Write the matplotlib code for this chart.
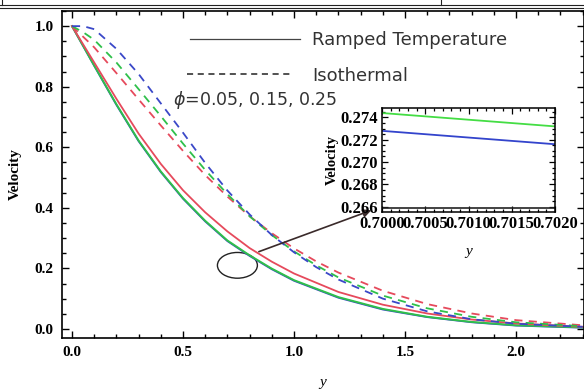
import numpy as np
import matplotlib
matplotlib.use("Agg")
import matplotlib.pyplot as plt
from matplotlib.patches import Ellipse
from matplotlib.lines import Line2D
from matplotlib.ticker import MultipleLocator, FormatStrFormatter

# velocity profiles, ramped temperature (solid)
y_ramp = [0.0, 0.1, 0.2, 0.3, 0.4, 0.5, 0.6, 0.7, 0.8, 0.9, 1.0, 1.2, 1.4, 1.6, 1.8, 2.0, 2.3]
ramp_red = [1.0, 0.88, 0.76, 0.645, 0.545, 0.458, 0.385, 0.322, 0.267, 0.222, 0.183, 0.122, 0.08, 0.051, 0.031, 0.018, 0.007]
ramp_green = [1.0, 0.87, 0.742, 0.622, 0.52, 0.432, 0.357, 0.292, 0.243, 0.199, 0.161, 0.105, 0.066, 0.04, 0.023, 0.012, 0.005]
ramp_blue = [1.0, 0.869, 0.74, 0.62, 0.518, 0.43, 0.355, 0.29, 0.241, 0.197, 0.159, 0.103, 0.064, 0.039, 0.022, 0.011, 0.004]

# isothermal (dashed)
y_iso = [0.0, 0.05, 0.1, 0.2, 0.3, 0.4, 0.5, 0.6, 0.7, 0.8, 0.9, 1.0, 1.1, 1.2, 1.4, 1.6, 1.8, 2.0, 2.3]
iso_red = [1.0, 0.965, 0.93, 0.845, 0.758, 0.672, 0.588, 0.508, 0.437, 0.372, 0.316, 0.266, 0.223, 0.186, 0.126, 0.082, 0.051, 0.029, 0.012]
iso_green = [1.0, 0.98, 0.955, 0.88, 0.792, 0.703, 0.612, 0.525, 0.445, 0.372, 0.31, 0.256, 0.21, 0.17, 0.11, 0.068, 0.04, 0.022, 0.009]
iso_blue = [1.0, 1.0, 0.99, 0.925, 0.842, 0.745, 0.648, 0.548, 0.457, 0.378, 0.31, 0.253, 0.204, 0.163, 0.1, 0.058, 0.032, 0.017, 0.007]

# zoomed region around y = 0.7
y_zoom = [0.7000, 0.7020]
zoom_green = [0.2744, 0.2732]
zoom_blue = [0.2728, 0.2716]
zoom_black = [0.2659, 0.2659]

RED = "#e64a5c"
GREEN = "#2fc04a"
BLUE = "#3a48c8"

serif_bold = {"family": "Liberation Serif", "weight": "bold"}

fig = plt.figure(figsize=(5.84, 3.92), dpi=100)
ax = fig.add_axes([62 / 584, 54 / 392, 522 / 584, 327 / 392])

ax.plot(y_ramp, ramp_blue, color=BLUE, lw=1.3)
ax.plot(y_ramp, ramp_green, color=GREEN, lw=1.4)
ax.plot(y_ramp, ramp_red, color=RED, lw=1.3)
dash = (0, (4.5, 3.5))
ax.plot(y_iso, iso_red, color=RED, lw=1.3, ls=dash)
ax.plot(y_iso, iso_green, color=GREEN, lw=1.3, ls=dash)
ax.plot(y_iso, iso_blue, color=BLUE, lw=1.3, ls=dash)

ax.set_xlim(-0.045, 2.306)
ax.set_ylim(-0.03, 1.05)
ax.xaxis.set_major_locator(MultipleLocator(0.5))
ax.xaxis.set_minor_locator(MultipleLocator(0.1))
ax.yaxis.set_major_locator(MultipleLocator(0.2))
ax.yaxis.set_minor_locator(MultipleLocator(0.05))
ax.xaxis.set_major_formatter(FormatStrFormatter("%.1f"))
ax.yaxis.set_major_formatter(FormatStrFormatter("%.1f"))
ax.tick_params(which="both", direction="in", top=True, right=True, width=1.0)
ax.tick_params(which="major", length=5, labelsize=11, pad=6)
ax.tick_params(which="minor", length=3)
for lab in ax.get_xticklabels() + ax.get_yticklabels():
    lab.set_fontfamily("Liberation Serif")
    lab.set_fontweight("bold")
for s in ax.spines.values():
    s.set_linewidth(1.2)

ax.set_ylabel("Velocity", fontdict=serif_bold, fontsize=11, labelpad=9)
ax.set_xlabel("y", family="Liberation Serif", style="italic", fontsize=11, labelpad=12)

# legend drawn by hand
ax.plot([0.245, 0.456], [0.914, 0.914], color="#444444", lw=0.9, transform=ax.transAxes)
ax.plot([0.239, 0.437], [0.806, 0.806], color="#222222", lw=1.1, ls=(0, (4, 3)), transform=ax.transAxes)
ax.text(0.479, 0.911, "Ramped Temperature", transform=ax.transAxes, va="center",
        fontsize=13, color="#333333")
ax.text(0.479, 0.802, "Isothermal", transform=ax.transAxes, va="center",
        fontsize=13, color="#333333")
ax.text(0.213, 0.727, r"$\phi$=0.05, 0.15, 0.25", transform=ax.transAxes, va="center",
        fontsize=12.5, color="#333333")

# marker ellipse and pointer to the inset
ax.add_patch(Ellipse((0.745, 0.21), 0.18, 0.085, fill=False, ec="#222222", lw=1.0))
ax.annotate("", xy=(1.36, 0.395), xytext=(0.83, 0.252),
            arrowprops=dict(arrowstyle="-|>", color="#3a2a2a", lw=1.2, mutation_scale=12))

# inset
axi = fig.add_axes([382 / 584, 180 / 392, 173 / 584, 104 / 392])
axi.plot(y_zoom, zoom_green, color="#44dd44", lw=1.3)
axi.plot(y_zoom, zoom_blue, color="#3344cc", lw=1.3)
axi.plot(y_zoom, zoom_black, color="#222222", lw=1.2)
axi.set_xlim(0.7000, 0.7020)
axi.set_ylim(0.26552, 0.27485)
axi.xaxis.set_major_locator(MultipleLocator(0.0005))
axi.xaxis.set_minor_locator(MultipleLocator(0.0001))
axi.yaxis.set_major_locator(MultipleLocator(0.002))
axi.yaxis.set_minor_locator(MultipleLocator(0.0005))
axi.xaxis.set_major_formatter(FormatStrFormatter("%.4f"))
axi.yaxis.set_major_formatter(FormatStrFormatter("%.3f"))
axi.tick_params(which="both", direction="in", top=True, right=True, width=0.9)
axi.tick_params(which="major", length=4, labelsize=12, pad=3)
axi.tick_params(which="minor", length=2)
for lab in axi.get_xticklabels() + axi.get_yticklabels():
    lab.set_fontfamily("Liberation Serif")
    lab.set_fontweight("bold")
for s in axi.spines.values():
    s.set_linewidth(1.1)
axi.set_ylabel("Velocity", fontdict=serif_bold, fontsize=10.5, labelpad=1)
axi.set_xlabel("y", family="Liberation Serif", style="italic", fontsize=11, labelpad=9)

# page border above the figure
fig.add_artist(Line2D([0, 1], [1 - 5 / 392, 1 - 5 / 392], color="#222222", lw=0.8))
fig.add_artist(Line2D([0, 1], [1 - 8 / 392, 1 - 8 / 392], color="#222222", lw=0.8))
fig.add_artist(Line2D([1.5 / 584, 1.5 / 584], [1 - 5 / 392, 1], color="#222222", lw=0.8))
fig.add_artist(Line2D([441 / 584, 441 / 584], [1 - 5 / 392, 1], color="#222222", lw=0.8))

fig.savefig("out.png", dpi=100)
